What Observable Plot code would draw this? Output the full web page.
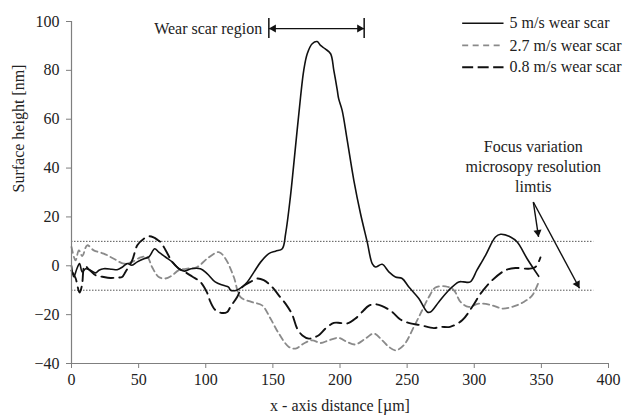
<!DOCTYPE html>
<html>
<head>
<meta charset="utf-8">
<script src="https://cdn.jsdelivr.net/npm/d3@7"></script>
<script src="https://cdn.jsdelivr.net/npm/@observablehq/plot@0.6"></script>
<style>
  html, body { margin: 0; padding: 0; background: #fff; }
  #chart { width: 625px; height: 415px; }
  #chart svg, #chart svg text { font-family: "Liberation Serif", "Times New Roman", serif !important; font-size: 16px !important; }
</style>
</head>
<body>
<div id="chart"></div>
<script>
// ---------- data ----------
const seriesNames = ["5 m/s wear scar", "2.7 m/s wear scar", "0.8 m/s wear scar"];

const x5 = [0,1.7,4,6,8,10.5,14,18,20.5,24,30,34,38,41.5,45,49,54,57.6,62,65,70,75,80,84,89,96,101,107,113,117,118.5,123,127,131,136,141,147,152,157,159.5,163,165.6,170.6,173,175.6,179.3,183,185.5,189,193,195.4,198,199,201.6,205.4,210.3,215.3,220.3,224,226.4,231.4,236.4,241.3,246.3,251.3,258.7,265,267.4,273.6,281,288.5,292,297,302,308.4,315.8,319.6,327,332,339.4,348];
const y5 = [0,-4.5,-1.2,0.9,-2.5,-1.2,-1.8,-2.9,-1.8,-1.2,-1.4,-1.6,-0.5,0.9,0.2,1.6,2.9,3.6,7.0,5.6,3.6,1.6,-1.2,-2.2,-1.2,-1.2,-3.2,-6.6,-8,-8.7,-10,-10,-8.7,-6.6,-2.5,1.6,5,6,7,13.2,28,41.8,69,80,86.8,90.9,91.8,90.2,88.8,86.8,80,71.8,68.4,63.6,51.3,35,21.3,9.7,0.9,-0.5,0.6,-2.5,-4.6,-5.2,-8.7,-13.4,-18.9,-18.9,-14.8,-10,-6.6,-6.6,-6.6,-1.8,4.3,11.8,12.9,11.8,9.7,2.9,-4.3];

const x27 = [0,3,5.5,8,11.7,16.6,24,31.5,39,45.2,51.4,56.4,60,65,70,75,80,86.2,93.6,101,109.7,114.7,120.9,125.9,134,142,148.2,154.4,161.9,166.9,173,179.3,185.5,191.7,199.1,205.4,211.5,219,225.2,231.4,236.4,241.3,247.5,255,261.2,266.2,271.1,278.6,284.8,289.8,295.9,303.4,313.4,320.8,328.3,336.9,343.2,348];
const y27 = [7.7,2.2,6.3,4,8.4,6.3,5,2.9,0.9,1.6,3.4,3.6,-0.5,-4.6,-5.2,-3.9,-1.8,-1.2,-0.5,2.9,5.6,2.9,-4.6,-12.8,-14.8,-16.2,-21.6,-27.7,-33.2,-33.9,-31.8,-30.5,-31.6,-30.5,-29.5,-31.2,-32.2,-29.8,-27.7,-30.5,-33.2,-34.6,-32.5,-25,-18.2,-12.8,-8.9,-8.4,-10,-14.8,-16.8,-15.5,-16.2,-17.5,-16.8,-14.8,-12.1,-6.6];

const x08 = [0,3,6,7.8,9.8,13,18,23,29,34,37.7,40.2,45.2,49,53.9,58,61.5,63.8,66.3,70,75,80,83.6,89.9,96,101,103.5,107.3,112,116,118.4,123.4,127.1,133.3,138.3,143.2,149.5,154.4,159.4,164.4,168.1,172,176.8,180,184.2,189.2,195.4,200,205.4,211.5,217.7,221,225.2,231,238.9,245,252.5,260,269.9,275,282,291,298.5,304.7,313.4,323.3,330.7,340.6,345.6,349.3];
const y08 = [-2,-5,-11,-8,0,-1.5,-3.9,-4.5,-5,-4.8,-4.6,-2.5,2.2,8.4,11.1,12.1,11.5,10.7,9.7,6.5,1.6,-1.2,-2.2,-4.4,-6.6,-11,-14.8,-18.2,-19.3,-18.9,-16.8,-12.8,-8.7,-6.6,-5.2,-5.9,-8.7,-12.1,-15.5,-20,-25.7,-28.5,-29.8,-29.5,-28.4,-25.7,-23.4,-23.4,-23.6,-21.6,-18.2,-16.5,-15.7,-16.4,-18.9,-22,-23.6,-24.3,-25.5,-25,-25,-22.3,-16.8,-11.4,-5.9,-1.8,-0.9,-1.2,-0.5,3.4];

const xTicks = [0, 50, 100, 150, 200, 250, 300, 350, 400];
const yTicks = [-40, -20, 0, 20, 40, 60, 80, 100];
const limitLines = [10, -10];

const regionLabel = "Wear scar region";
const regionX = [147, 218];
const focusLabel = "Focus variation\nmicrosopy resolution\nlimtis";
const focusFrom = {x: 344, y: 26.1};
const focusTo = [{x: 347.9, y: 11.8}, {x: 378.4, y: -9.2}];

// ---------- layout ----------
const W = 625, H = 415;
const mL = 71, mR = 17, mT = 21, mB = 52;
const kx = (W - mL - mR) / 400;
const ky = (H - mT - mB) / 140;

const toRows = (xs, ys, s) => xs.map((x, i) => ({x, y: ys[i], s}));
const d5 = toRows(x5, y5, seriesNames[0]);
const d27 = toRows(x27, y27, seriesNames[1]);
const d08 = toRows(x08, y08, seriesNames[2]);

const legX1 = 291, legX2 = 321.8, legTx = 326.3;
const legY = [99.3, 90.2, 81.3];
const legendRows = seriesNames.map((n, i) => ({n, y: legY[i]}));
const styles = [
  {stroke: "#111", strokeWidth: 1.6},
  {stroke: "#8a8a8a", strokeWidth: 1.8, strokeDasharray: "6,4"},
  {stroke: "#111", strokeWidth: 1.9, strokeDasharray: "12,6"}
];
const legendDash = [null, "6,4.5", "11,4.5"];

const headOff = 4.67;
function head(x1, y1, x2, y2) {
  const dxp = (x2 - x1) * kx, dyp = -(y2 - y1) * ky;
  const len = Math.hypot(dxp, dyp);
  const ang = Math.atan2(dxp, -dyp) * 180 / Math.PI;
  return {x: x2 - dxp / len * headOff / kx, y: y2 + dyp / len * headOff / ky, r: ang};
}
const regionY = 97.1;
const heads = [
  head(regionX[1], regionY, regionX[0], regionY),
  head(regionX[0], regionY, regionX[1], regionY),
  ...focusTo.map(t => head(focusFrom.x, focusFrom.y, t.x, t.y))
];
const focusLinks = focusTo.map(t => ({x1: focusFrom.x, y1: focusFrom.y, x2: t.x, y2: t.y}));

const font = "Liberation Serif";

const chart = Plot.plot({
  width: W, height: H,
  marginLeft: mL, marginRight: mR, marginTop: mT, marginBottom: mB,
  style: {fontFamily: font, fontSize: "16px", color: "#222", background: "#fff", overflow: "visible"},
  x: {domain: [0, 400]},
  y: {domain: [-40, 100]},
  marks: [
    Plot.ruleY(limitLines, {x1: 0, x2: 389, stroke: "#555", strokeWidth: 1, strokeDasharray: "1.5,1.5"}),
    Plot.line(d27, {x: "x", y: "y", curve: "catmull-rom", ...styles[1]}),
    Plot.line(d08, {x: "x", y: "y", curve: "catmull-rom", ...styles[2]}),
    Plot.line(d5, {x: "x", y: "y", curve: "catmull-rom", ...styles[0]}),
    Plot.axisX({ticks: xTicks, tickSize: 5, tickPadding: 5, stroke: "#7f7f7f", fill: "#222", label: null, fontFamily: font}),
    Plot.axisY({ticks: yTicks, tickSize: 5, tickPadding: 7, stroke: "#7f7f7f", fill: "#222", label: null, fontFamily: font}),
    Plot.ruleX([0], {stroke: "#7f7f7f", strokeWidth: 1.2}),
    Plot.ruleY([-40], {stroke: "#7f7f7f", strokeWidth: 1.2}),
    Plot.text(["x - axis distance [µm]"], {frameAnchor: "bottom", dy: 42, lineAnchor: "middle", fill: "#222", fontFamily: font}),
    Plot.text(["Surface height [nm]"], {frameAnchor: "left", dx: -53, rotate: -90, fill: "#222", fontFamily: font}),
    ...legendRows.map((r, i) => Plot.link([r], {x1: legX1, x2: legX2, y1: "y", y2: "y", ...styles[i], strokeDasharray: legendDash[i]})),
    Plot.text(legendRows, {x: legTx, y: "y", text: "n", textAnchor: "start", fill: "#222", fontFamily: font}),
    Plot.ruleX(regionX, {y1: 93, y2: 101.2, stroke: "#111", strokeWidth: 1.5}),
    Plot.link([{a: regionX[0], b: regionX[1]}], {x1: "a", x2: "b", y1: regionY, y2: regionY, stroke: "#111", strokeWidth: 1.3}),
    Plot.text([regionLabel], {x: 142, y: regionY, textAnchor: "end", fill: "#222", fontFamily: font}),
    Plot.text([focusLabel], {x: focusFrom.x, y: 41, lineHeight: 1.25, lineAnchor: "middle", textAnchor: "middle", fill: "#222", fontFamily: font}),
    Plot.link(focusLinks, {x1: "x1", y1: "y1", x2: "x2", y2: "y2", stroke: "#111", strokeWidth: 1.4}),
    Plot.dot(heads, {x: "x", y: "y", rotate: "r", symbol: "triangle", r: 3, fill: "#111", stroke: "none"})
  ]
});
document.getElementById("chart").appendChild(chart);
</script>
</body>
</html>
